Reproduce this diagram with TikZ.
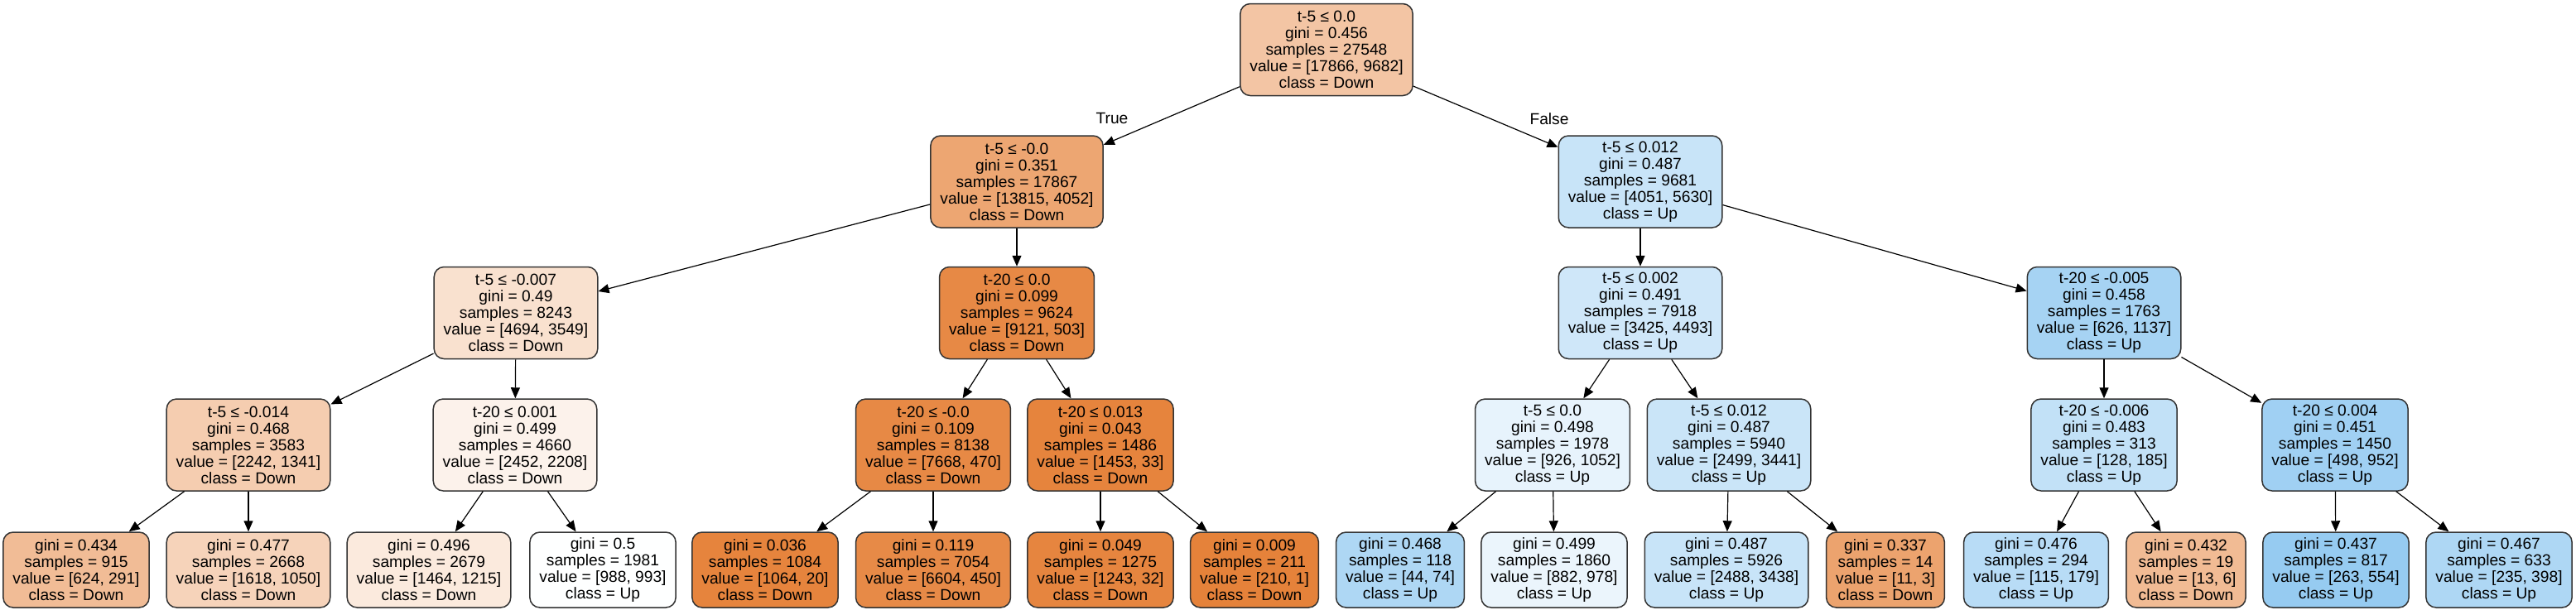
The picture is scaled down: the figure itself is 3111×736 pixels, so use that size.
\documentclass[tikz,border=0pt]{standalone}
\usepackage{fontspec}
\setmainfont{Liberation Sans}
\usetikzlibrary{arrows.meta}
\definecolor{down}{RGB}{229,129,57}
\definecolor{up}{RGB}{57,157,229}
\tikzset{
  dnode/.style={draw=black!80,line width=0.75pt,rounded corners=6pt,align=center,
    inner xsep=5.75pt,inner ysep=2pt,minimum height=55.5pt,
    font=\fontsize{9.6}{10}\selectfont},
  dleaf/.style={dnode,minimum height=45.5pt},
  edge/.style={line width=0.6pt,-{Triangle[length=6.5pt,width=5.5pt]}},
}
\begin{document}
\begin{tikzpicture}[x=0.5pt,y=-0.5pt]
\useasboundingbox (0,0) rectangle (3111,736);
% splits
\node[dnode,fill=down!46] (n0) at (1602,60) {t-5 ≤ 0.0\\gini = 0.456\\samples = 27548\\value = [17866, 9682]\\class = Down};
\node[dnode,fill=down!71] (n1) at (1228,219.5) {t-5 ≤ -0.0\\gini = 0.351\\samples = 17867\\value = [13815, 4052]\\class = Down};
\node[dnode,fill=up!28] (n16) at (1981,219.5) {t-5 ≤ 0.012\\gini = 0.487\\samples = 9681\\value = [4051, 5630]\\class = Up};
\node[dnode,fill=down!24] (n2) at (623,378) {t-5 ≤ -0.007\\gini = 0.49\\samples = 8243\\value = [4694, 3549]\\class = Down};
\node[dnode,fill=down!94] (n9) at (1228,378) {t-20 ≤ 0.0\\gini = 0.099\\samples = 9624\\value = [9121, 503]\\class = Down};
\node[dnode,fill=up!24] (n17) at (1981,378) {t-5 ≤ 0.002\\gini = 0.491\\samples = 7918\\value = [3425, 4493]\\class = Up};
\node[dnode,fill=up!45] (n24) at (2541,378) {t-20 ≤ -0.005\\gini = 0.458\\samples = 1763\\value = [626, 1137]\\class = Up};
\node[dnode,fill=down!40] (n3) at (300,537.5) {t-5 ≤ -0.014\\gini = 0.468\\samples = 3583\\value = [2242, 1341]\\class = Down};
\node[dnode,fill=down!10] (n6) at (622,537.5) {t-20 ≤ 0.001\\gini = 0.499\\samples = 4660\\value = [2452, 2208]\\class = Down};
\node[dnode,fill=down!94] (n10) at (1127,537.5) {t-20 ≤ -0.0\\gini = 0.109\\samples = 8138\\value = [7668, 470]\\class = Down};
\node[dnode,fill=down!98] (n13) at (1329,537.5) {t-20 ≤ 0.013\\gini = 0.043\\samples = 1486\\value = [1453, 33]\\class = Down};
\node[dnode,fill=up!12] (n18) at (1875,537.5) {t-5 ≤ 0.0\\gini = 0.498\\samples = 1978\\value = [926, 1052]\\class = Up};
\node[dnode,fill=up!27] (n21) at (2088,537.5) {t-5 ≤ 0.012\\gini = 0.487\\samples = 5940\\value = [2499, 3441]\\class = Up};
\node[dnode,fill=up!31] (n25) at (2541,537.5) {t-20 ≤ -0.006\\gini = 0.483\\samples = 313\\value = [128, 185]\\class = Up};
\node[dnode,fill=up!48] (n28) at (2820,537.5) {t-20 ≤ 0.004\\gini = 0.451\\samples = 1450\\value = [498, 952]\\class = Up};
% leaves
\node[dleaf,fill=down!53] (n4) at (92,688.5) {gini = 0.434\\samples = 915\\value = [624, 291]\\class = Down};
\node[dleaf,fill=down!35] (n5) at (300,688.5) {gini = 0.477\\samples = 2668\\value = [1618, 1050]\\class = Down};
\node[dleaf,fill=down!17] (n7) at (518,688.5) {gini = 0.496\\samples = 2679\\value = [1464, 1215]\\class = Down};
\node[dleaf,fill=up!0.5] (n8) at (728,688.5) {gini = 0.5\\samples = 1981\\value = [988, 993]\\class = Up};
\node[dleaf,fill=down!98] (n11) at (924,688.5) {gini = 0.036\\samples = 1084\\value = [1064, 20]\\class = Down};
\node[dleaf,fill=down!93] (n12) at (1127,688.5) {gini = 0.119\\samples = 7054\\value = [6604, 450]\\class = Down};
\node[dleaf,fill=down!97] (n14) at (1329,688.5) {gini = 0.049\\samples = 1275\\value = [1243, 32]\\class = Down};
\node[dleaf,fill=down!99.5] (n15) at (1515,688.5) {gini = 0.009\\samples = 211\\value = [210, 1]\\class = Down};
\node[dleaf,fill=up!41] (n19) at (1691,688.5) {gini = 0.468\\samples = 118\\value = [44, 74]\\class = Up};
\node[dleaf,fill=up!10] (n20) at (1877,688.5) {gini = 0.499\\samples = 1860\\value = [882, 978]\\class = Up};
\node[dleaf,fill=up!28] (n22) at (2085,688.5) {gini = 0.487\\samples = 5926\\value = [2488, 3438]\\class = Up};
\node[dleaf,fill=down!73] (n23) at (2277,688.5) {gini = 0.337\\samples = 14\\value = [11, 3]\\class = Down};
\node[dleaf,fill=up!36] (n26) at (2459,688.5) {gini = 0.476\\samples = 294\\value = [115, 179]\\class = Up};
\node[dleaf,fill=down!54] (n27) at (2640,688.5) {gini = 0.432\\samples = 19\\value = [13, 6]\\class = Down};
\node[dleaf,fill=up!53] (n29) at (2821,688.5) {gini = 0.437\\samples = 817\\value = [263, 554]\\class = Up};
\node[dleaf,fill=up!41] (n30) at (3018,688.5) {gini = 0.467\\samples = 633\\value = [235, 398]\\class = Up};
\foreach \a/\b in {0/1,0/16,1/2,1/9,2/3,2/6,3/4,3/5,6/7,6/8,9/10,9/13,10/11,10/12,13/14,13/15,
  16/17,16/24,17/18,17/21,18/19,18/20,21/22,21/23,24/25,24/28,25/26,25/27,28/29,28/30} {
\draw[edge] (n\a) -- (n\b);
}
\node[font=\fontsize{9.6}{10}\selectfont] (ltrue) at (1343,143) {True};
\node[font=\fontsize{9.6}{10}\selectfont] (lfalse) at (1871,144) {False};
\end{tikzpicture}
\end{document}
